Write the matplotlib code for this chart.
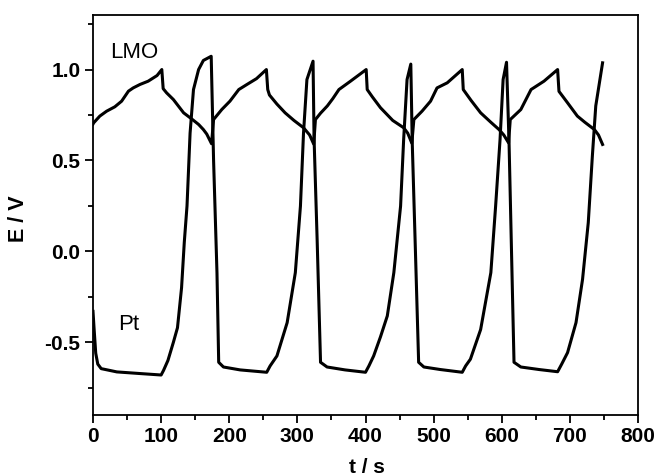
import numpy as np
import matplotlib
matplotlib.use('Agg')
import matplotlib.pyplot as plt
from matplotlib.ticker import MultipleLocator, FormatStrFormatter

plt.rcParams['font.family'] = ['Liberation Sans', 'DejaVu Sans']
plt.rcParams['axes.unicode_minus'] = False

# LMO electrode potential
lmo_t = [0, 1, 10, 20, 32, 42, 52, 59, 69, 81, 94, 101,
         103, 108, 118, 133, 145, 155, 162, 167, 174,
         177, 189, 201, 214, 226, 240, 254.5,
         256.5, 259, 270, 282, 295, 309, 318, 324,
         326.5, 334, 344, 352, 361, 378, 401,
         402.5, 410, 422, 440, 456, 462, 468,
         471, 483, 495.5, 505, 520, 542,
         543.5, 555, 569, 584, 596, 603, 610,
         612.5, 628, 643, 662, 682,
         684, 696, 711, 722, 736, 742, 748]
lmo_e = [0.70, 0.707, 0.744, 0.771, 0.795, 0.826, 0.881, 0.899, 0.918, 0.936, 0.967, 1.0,
         0.895, 0.872, 0.835, 0.762, 0.728, 0.698, 0.67, 0.645, 0.592,
         0.725, 0.78, 0.826, 0.89, 0.918, 0.95, 1.0,
         0.89, 0.86, 0.81, 0.762, 0.72, 0.68, 0.64, 0.59,
         0.725, 0.76, 0.80, 0.84, 0.89, 0.936, 1.0,
         0.89, 0.85, 0.79, 0.72, 0.68, 0.65, 0.595,
         0.725, 0.771, 0.826, 0.899, 0.927, 1.0,
         0.89, 0.83, 0.762, 0.71, 0.67, 0.64, 0.597,
         0.725, 0.78, 0.89, 0.936, 1.0,
         0.88, 0.82, 0.744, 0.71, 0.67, 0.64, 0.588]

# Pt electrode potential
pt_t = [0, 1.5, 4, 7, 12, 35, 69, 100,
        103.5, 110, 118, 124, 130, 134, 138, 142.5, 147.5, 155, 162, 173.5,
        177, 182, 184.5, 191.5, 216, 255,
        260, 270, 285, 297, 304.5, 309, 314, 323,
        324.5, 329, 334, 343.6, 370, 400,
        405, 412, 422, 432, 441.6, 451.5, 456, 461, 466.5,
        468.6, 473.5, 478, 485.7, 510, 542,
        547, 554, 569, 584, 591, 597.5, 602, 607,
        610.7, 618, 628, 655, 682,
        688, 696.6, 709, 718.6, 727, 733, 738, 748]
pt_e = [-0.33, -0.42, -0.56, -0.62, -0.645, -0.663, -0.672, -0.68,
        -0.655, -0.60, -0.50, -0.42, -0.20, 0.05, 0.25, 0.65, 0.89, 1.0, 1.05, 1.073,
        0.50, -0.12, -0.61, -0.636, -0.652, -0.665,
        -0.63, -0.575, -0.392, -0.117, 0.249, 0.65, 0.945, 1.046,
        0.62, 0.066, -0.61, -0.636, -0.652, -0.665,
        -0.63, -0.575, -0.47, -0.355, -0.117, 0.249, 0.615, 0.945, 1.03,
        0.60, -0.026, -0.61, -0.636, -0.65, -0.665,
        -0.63, -0.593, -0.43, -0.117, 0.249, 0.615, 0.945, 1.04,
        0.60, -0.61, -0.636, -0.65, -0.662,
        -0.62, -0.557, -0.392, -0.154, 0.158, 0.524, 0.80, 1.037]

fig = plt.figure(figsize=(6.58, 4.76), dpi=100)
ax = fig.add_axes([93/658, 61/476, 545/658, 400/476])

ax.plot(lmo_t, lmo_e, color='black', lw=2.2)
ax.plot(pt_t, pt_e, color='black', lw=2.2)

ax.set_xlim(0, 800)
ax.set_ylim(-0.9, 1.3)
ax.xaxis.set_major_locator(MultipleLocator(100))
ax.xaxis.set_minor_locator(MultipleLocator(50))
ax.yaxis.set_major_locator(MultipleLocator(0.5))
ax.yaxis.set_minor_locator(MultipleLocator(0.25))
ax.yaxis.set_major_formatter(FormatStrFormatter('%.1f'))

ax.tick_params(which='both', direction='out', top=False, right=False, width=1.3)
ax.tick_params(which='major', length=6, labelsize=15, pad=3)
ax.tick_params(which='minor', length=3.5)
for lab in ax.get_xticklabels() + ax.get_yticklabels():
    lab.set_fontweight('bold')
for s in ax.spines.values():
    s.set_linewidth(1.3)

ax.set_xlabel('t / s', fontsize=15, fontweight='bold')
ax.set_ylabel('E / V', fontsize=15.5, fontweight='bold')
ax.xaxis.set_label_coords(0.503, -0.108)
ax.yaxis.set_label_coords(-0.117, 0.49)

ax.text(25, 1.095, 'LMO', fontsize=16, va='center', ha='left')
ax.text(37, -0.40, 'Pt', fontsize=16, va='center', ha='left')

fig.savefig('out.png', dpi=100)
